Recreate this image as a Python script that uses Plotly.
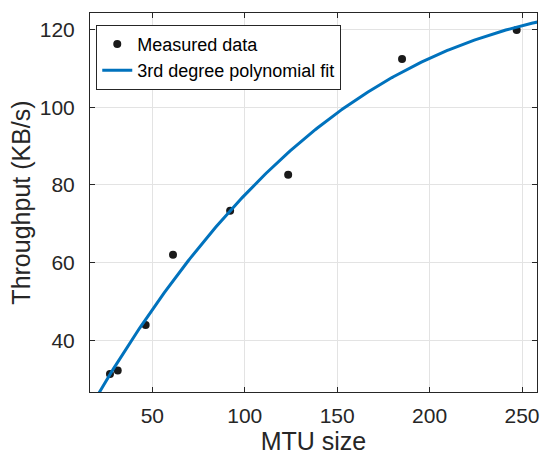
import numpy as np
import plotly.graph_objects as go

mtu = [27.1, 31.3, 46.4, 61.2, 92.1, 123.5, 185.1, 247.1]
throughput = [31.4, 32.3, 44.0, 62.1, 73.4, 82.6, 112.4, 119.8]
x_ticks = [50, 100, 150, 200, 250]
y_ticks = [40, 60, 80, 100, 120]

coef = np.polyfit(mtu, throughput, 3)
xf = np.linspace(16, 258.2, 300)
yf = np.polyval(coef, xf)

FONT = "Liberation Sans, Arial, Helvetica"

fig = go.Figure()
fig.add_trace(go.Scatter(x=mtu, y=throughput, mode="markers", name="Measured data",
                         marker=dict(color="#1a1a1a", size=8)))
fig.add_trace(go.Scatter(x=xf, y=yf, mode="lines", name="3rd degree polynomial fit",
                         line=dict(color="#0072BD", width=3)))

axis_common = dict(showgrid=True, gridcolor="#e3e3e3", gridwidth=1, showline=True,
                   linecolor="#262626", linewidth=1, mirror="ticks", ticks="inside",
                   ticklen=5, tickcolor="#262626", zeroline=False, automargin=False,
                   tickfont=dict(family=FONT, size=21, color="#262626"),
                   title_font=dict(family=FONT, size=25, color="#262626"))

fig.update_layout(
    width=543, height=463,
    margin=dict(l=90, r=6, t=13, b=71),
    paper_bgcolor="white", plot_bgcolor="white",
    xaxis=dict(range=[16.3, 258.1], tickvals=x_ticks, ticklabelstandoff=5,
               title=dict(text="MTU size", standoff=4), **axis_common),
    yaxis=dict(range=[26.8, 124.2], tickvals=y_ticks, ticklabelstandoff=10,
               title=dict(text="Throughput (KB/s)", standoff=2), **axis_common),
    legend=dict(x=0.014, y=0.969, xanchor="left", yanchor="top",
                bgcolor="white", bordercolor="#262626", borderwidth=1,
                font=dict(family=FONT, size=18, color="#000000"),
                tracegroupgap=0, itemwidth=30),
    showlegend=True,
)

fig.write_html(
    "out.html",
    config={"displayModeBar": False},
    post_script="document.body.style.margin='0';document.body.style.overflow='hidden';",
)
